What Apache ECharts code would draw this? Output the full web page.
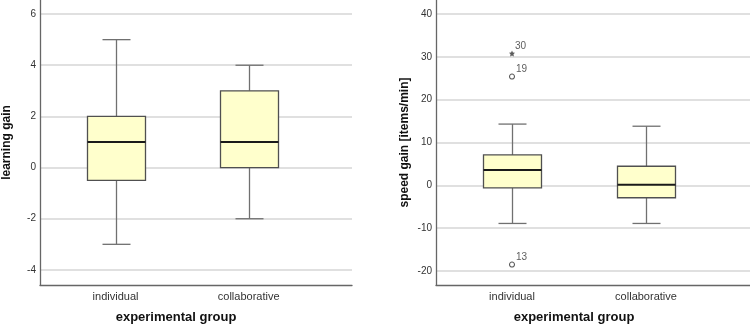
<!DOCTYPE html>
<html>
<head>
<meta charset="utf-8">
<script src="https://cdn.jsdelivr.net/npm/echarts@6/dist/echarts.min.js"></script>
<style>
  html, body { margin: 0; padding: 0; background: #fff; }
  #chart { width: 750px; height: 324px; }
</style>
</head>
<body>
<div id="chart"></div>
<script>
// groups on the x axis (position 1 and 2)
const groups = ['individual', 'collaborative'];
const groupPos = [1, 2];

// learning gain: [min, Q1, median, Q3, max]
const learnBoxes = [
    [-3, -0.5, 1, 2, 5],
    [-2, 0, 1, 3, 4]
];
const learnTicks = [-4, -2, 0, 2, 4, 6];

// speed gain [items/min]
const speedBoxes = [
    [-8.9, -0.6, 3.6, 7.1, 14.3],
    [-8.9, -2.9, 0.15, 4.45, 13.8]
];
const speedTicks = [-20, -10, 0, 10, 20, 30, 40];
// outliers: [group position, value, case number]
const speedOutliers = [
    [1, 25.4, '19'],
    [1, -18.5, '13']
];
const speedExtremes = [
    [1, 30.8, '30']
];

const font = 'Arial, "Liberation Sans", sans-serif';

function boxData(boxes) {
    return boxes.map((b, i) => [groupPos[i]].concat(b));
}

function renderBox(params, api) {
    const x = api.value(0);
    const pMin = api.coord([x, api.value(1)]);
    const pQ1 = api.coord([x, api.value(2)]);
    const pMed = api.coord([x, api.value(3)]);
    const pQ3 = api.coord([x, api.value(4)]);
    const pMax = api.coord([x, api.value(5)]);
    const cx = Math.round(pMin[0]) + 0.5;
    const bw = 58, cw = 28;
    const whisker = { stroke: '#707070', lineWidth: 1.3 };
    return {
        type: 'group',
        children: [
            { type: 'line', shape: { x1: cx, y1: pMin[1], x2: cx, y2: pQ1[1] }, style: whisker },
            { type: 'line', shape: { x1: cx, y1: pQ3[1], x2: cx, y2: pMax[1] }, style: whisker },
            { type: 'line', shape: { x1: cx - cw / 2, y1: pMin[1], x2: cx + cw / 2, y2: pMin[1] }, style: whisker },
            { type: 'line', shape: { x1: cx - cw / 2, y1: pMax[1], x2: cx + cw / 2, y2: pMax[1] }, style: whisker },
            {
                type: 'rect',
                shape: { x: cx - bw / 2, y: pQ3[1], width: bw, height: pQ1[1] - pQ3[1] },
                style: { fill: '#ffffcc', stroke: '#505050', lineWidth: 1.3 }
            },
            {
                type: 'line',
                shape: { x1: cx - bw / 2, y1: pMed[1], x2: cx + bw / 2, y2: pMed[1] },
                style: { stroke: '#1a1a1a', lineWidth: 2 }
            }
        ]
    };
}

function xAxisFor(gridIndex) {
    return {
        type: 'value',
        gridIndex: gridIndex,
        min: 1 - 76 / 134,
        max: 2 + 104 / 134,
        axisLine: { show: true, onZero: false, lineStyle: { color: '#666', width: 1.3 } },
        axisTick: { show: false },
        splitLine: { show: false },
        axisLabel: {
            customValues: groupPos,
            formatter: (v) => groups[groupPos.indexOf(Math.round(v))] || '',
            color: '#333',
            fontSize: 11,
            fontFamily: font,
            margin: 6
        }
    };
}

function yAxisFor(gridIndex, ticks, min, max, name, gap) {
    return {
        type: 'value',
        gridIndex: gridIndex,
        min: min,
        max: max,
        name: name,
        nameLocation: 'middle',
        nameGap: gap,
        nameTextStyle: { fontWeight: 'bold', fontSize: 12, color: '#111', fontFamily: font },
        axisLine: { show: true, lineStyle: { color: '#666', width: 1.3 } },
        axisTick: { show: false, customValues: ticks },
        axisLabel: { customValues: ticks, color: '#333', fontSize: 10, fontFamily: font, margin: 4 },
        splitLine: { show: true, lineStyle: { color: '#d6d6d6', width: 1.5 } }
    };
}

const titleStyle = { fontSize: 13, fontWeight: 'bold', color: '#111', fontFamily: font };

const chart = echarts.init(document.getElementById('chart'));
chart.setOption({
    backgroundColor: '#fff',
    animation: false,
    title: [
        { text: 'experimental group', left: 176, top: 311, padding: 0, textAlign: 'center', textStyle: titleStyle },
        { text: 'experimental group', left: 574, top: 311, padding: 0, textAlign: 'center', textStyle: titleStyle }
    ],
    grid: [
        { left: 38, top: 0, width: 314, height: 285 },
        { left: 436, top: 0, width: 314, height: 285 }
    ],
    xAxis: [xAxisFor(0), xAxisFor(1)],
    yAxis: [
        yAxisFor(0, learnTicks, -4.59, 6.55, 'learning gain', 27),
        yAxisFor(1, speedTicks, -23.27, 43.27, 'speed gain [items/min]', 25)
    ],
    series: [
        {
            type: 'custom', xAxisIndex: 0, yAxisIndex: 0,
            renderItem: renderBox, data: boxData(learnBoxes),
            encode: { x: 0, y: [1, 2, 3, 4, 5] }
        },
        {
            type: 'custom', xAxisIndex: 1, yAxisIndex: 1,
            renderItem: renderBox, data: boxData(speedBoxes),
            encode: { x: 0, y: [1, 2, 3, 4, 5] }
        },
        {
            type: 'scatter', xAxisIndex: 1, yAxisIndex: 1,
            symbol: 'circle', symbolSize: 5,
            itemStyle: { color: '#fff', borderColor: '#333', borderWidth: 1.1 },
            label: {
                show: true, position: 'right', distance: 1, offset: [0, -7],
                formatter: (p) => p.data[2], fontSize: 10, color: '#333', fontFamily: font
            },
            data: speedOutliers
        },
        {
            type: 'scatter', xAxisIndex: 1, yAxisIndex: 1,
            symbol: 'path://M0,-10 L2.9,-4 L9.5,-3.1 L4.7,1.5 L5.9,8.1 L0,5 L-5.9,8.1 L-4.7,1.5 L-9.5,-3.1 L-2.9,-4 Z',
            symbolSize: 6,
            itemStyle: { color: '#333' },
            label: {
                show: true, position: 'right', distance: 0, offset: [0, -7],
                formatter: (p) => p.data[2], fontSize: 10, color: '#333', fontFamily: font
            },
            data: speedExtremes
        }
    ]
});
</script>
</body>
</html>
